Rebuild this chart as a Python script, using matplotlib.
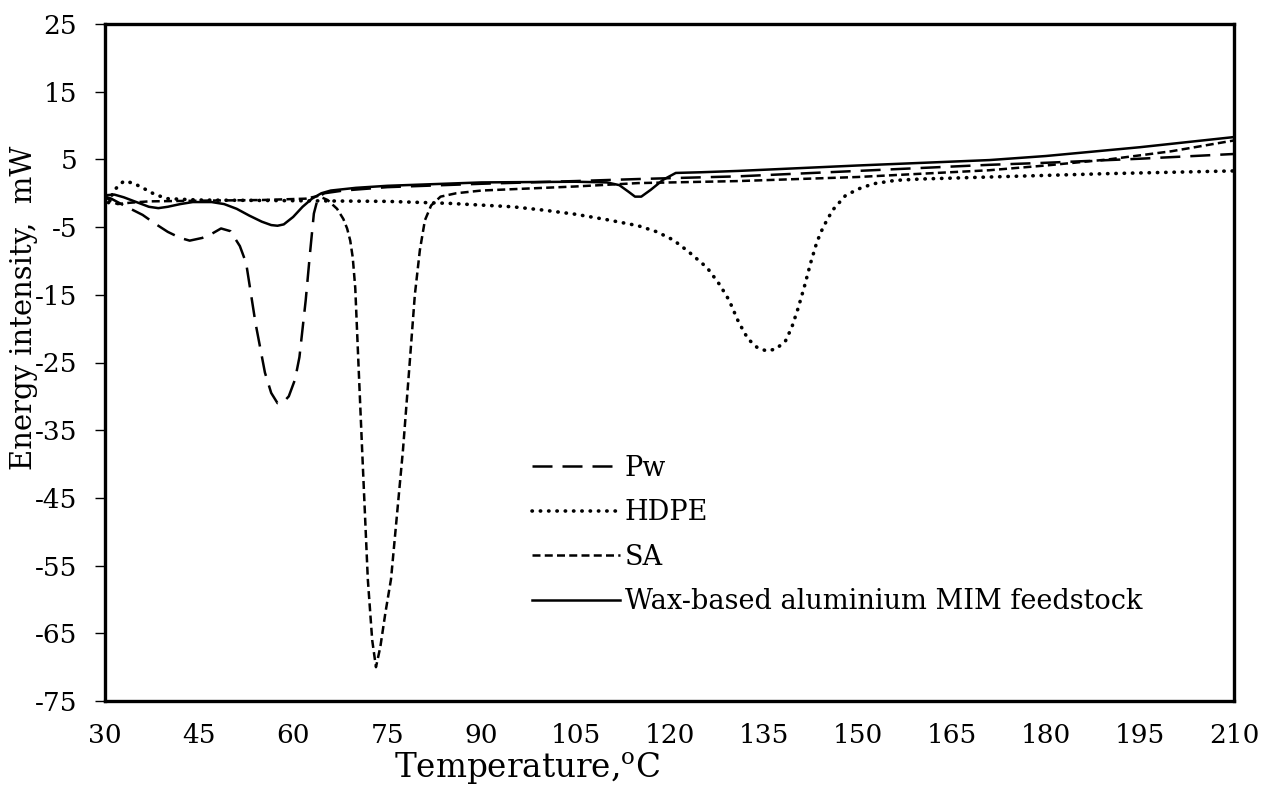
import matplotlib
matplotlib.use("Agg")
import matplotlib.pyplot as plt

# ---- data ----
pw_t = [30, 31, 33, 36, 38, 40, 42, 43.5, 45.5, 47, 48.5, 50, 51.5, 52.5, 54, 55.5, 56.5, 57.5,
        58.5, 59.3, 60.3, 61, 62, 62.7, 63.3, 64, 65, 68, 75, 90, 105, 115, 131, 150, 171, 180, 195, 210]
pw_y = [-0.5, -0.8, -1.8, -3.2, -4.5, -5.7, -6.6, -7.0, -6.6, -6.0, -5.2, -5.6, -7.8, -10.3, -19.2,
        -26.5, -29.5, -31.0, -30.8, -30.0, -27.5, -24.2, -15.8, -8.7, -3.0, -0.5, 0.0, 0.4, 0.9, 1.4,
        1.8, 2.1, 2.5, 3.3, 4.2, 4.5, 5.1, 5.8]

hdpe_t = [30, 30.5, 31.5, 33, 34.5, 36, 38, 40, 45, 60, 75, 85, 95, 100, 105, 110, 115, 118, 120.6,
          123, 126, 128, 129.5, 131, 132.5, 134, 135.5, 137, 138.5, 139.5, 140.5, 141.5, 142.5,
          143.5, 144.5, 146, 148, 150, 152.5, 156, 160, 171, 190, 210]
hdpe_y = [-2.5, -1.5, 0.5, 1.8, 1.5, 0.8, -0.2, -0.8, -1.0, -1.1, -1.2, -1.5, -2.0, -2.5, -3.1,
          -3.9, -4.8, -5.7, -6.9, -8.6, -11.0, -13.5, -15.8, -19.0, -21.5, -22.8, -23.3, -23.0,
          -21.8, -19.8, -17.0, -13.8, -10.3, -7.2, -5.0, -2.5, -0.4, 0.6, 1.4, 1.9, 2.1, 2.4, 2.9, 3.3]

sa_t = [30, 31, 32, 34, 37, 45, 55, 62, 64, 65.5, 67, 68.0, 68.6, 69.1, 69.5, 69.9, 70.4, 71.0,
        71.9, 72.6, 73.2, 73.9, 74.7, 75.6, 76.5, 77.5, 78.5, 79.4, 80.2, 81, 82, 83.5, 86, 90,
        105, 115, 131, 150, 171, 180, 190, 200, 210]
sa_y = [-0.5, -1.2, -1.6, -1.4, -1.2, -1.1, -1.0, -0.8, -0.4, -1.0, -2.3, -3.8, -5.2, -7.0, -9.5,
        -14.0, -25.0, -38.0, -57.0, -66.0, -70.0, -67.0, -62.0, -57.0, -48.0, -38.0, -26.0, -15.0,
        -8.4, -4.0, -1.8, -0.5, 0.0, 0.4, 1.0, 1.5, 1.8, 2.4, 3.4, 4.1, 5.0, 6.2, 7.8]

mim_t = [30, 31.5, 33, 35, 37, 38.5, 40, 42, 44, 47, 49, 51, 53, 55, 56.5, 57.5, 58.5, 60, 61.5,
         63, 64.5, 66, 70, 75, 90, 105, 110, 112, 113.5, 114.5, 115.5, 117, 119, 121, 125, 131,
         150, 171, 180, 195, 210]
mim_y = [-0.3, -0.2, -0.6, -1.3, -2.0, -2.2, -2.0, -1.6, -1.3, -1.3, -1.6, -2.3, -3.3, -4.2, -4.7,
         -4.8, -4.6, -3.5, -2.0, -0.8, 0.0, 0.4, 0.8, 1.1, 1.6, 1.7, 1.6, 1.2, 0.2, -0.5, -0.5,
         0.5, 2.0, 3.0, 3.1, 3.3, 4.1, 4.9, 5.5, 6.8, 8.3]

labels = ["Pw", "HDPE", "SA", "Wax-based aluminium MIM feedstock"]
x_ticks = list(range(30, 211, 15))
y_ticks = list(range(-75, 26, 10))

# ---- style ----
FONT = "DejaVu Serif"
plt.rcParams["font.family"] = [FONT]
plt.rcParams["mathtext.fontset"] = "custom"
plt.rcParams["mathtext.rm"] = FONT
plt.rcParams["axes.unicode_minus"] = False
FS = 19

fig = plt.figure(figsize=(12.62, 7.89), dpi=100)
ax = fig.add_axes([105 / 1262, 88 / 789, 1129 / 1262, 677 / 789])

lw = 1.8
ax.plot(pw_t, pw_y, color="black", lw=lw, linestyle=(0, (8, 4)), label=labels[0])
ax.plot(hdpe_t, hdpe_y, color="black", lw=2.6, linestyle=(0, (0.1, 2.2)),
        dash_capstyle="round", label=labels[1])
ax.plot(sa_t, sa_y, color="black", lw=lw, linestyle=(0, (3.2, 1.7)), label=labels[2])
ax.plot(mim_t, mim_y, color="black", lw=lw, linestyle="-", label=labels[3])

ax.set_xlim(30, 210)
ax.set_ylim(-75, 25)
ax.set_xticks(x_ticks)
ax.set_yticks(y_ticks)
ax.tick_params(axis="x", length=0, pad=16, labelsize=FS)
ax.tick_params(axis="y", length=7, width=1, pad=13, labelsize=FS, direction="out")

for s in ax.spines.values():
    s.set_linewidth(2.4)
    s.set_color("black")

ax.set_xlabel(r"Temperature,$^{\mathrm{o}}$C", fontsize=23.5)
ax.set_ylabel("Energy intensity,  mW", fontsize=21)
ax.xaxis.label.set_va("center")
ax.yaxis.label.set_va("center")
ax.xaxis.set_label_coords((527 - 105) / 1129, (701 - 769) / 677)
ax.yaxis.set_label_coords((24 - 105) / 1129, (701 - 308) / 677)

leg = ax.legend(loc="upper left", bbox_to_anchor=((518 - 105) / 1129, (701 - 441) / 677),
                frameon=False, fontsize=19.5, handlelength=3.25, handletextpad=0.2,
                labelspacing=0.65, borderpad=0)

fig.savefig("out.png", dpi=100)
